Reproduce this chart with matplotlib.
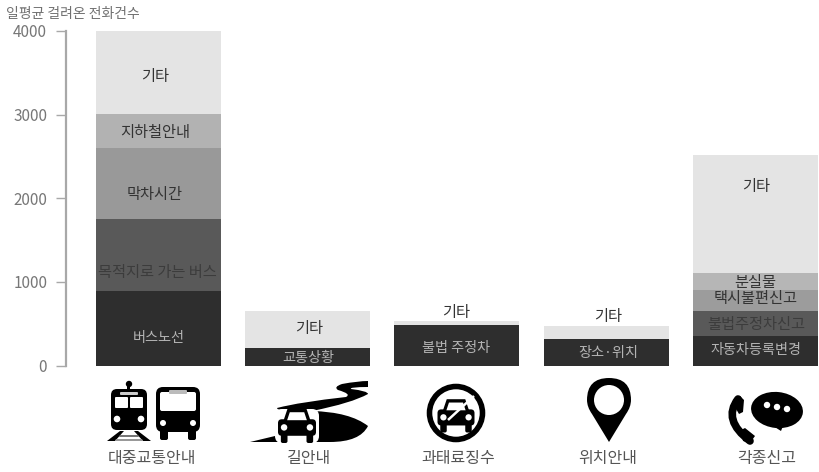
import matplotlib
matplotlib.use('Agg')
import matplotlib.pyplot as plt
from matplotlib.patches import Circle, Ellipse, FancyBboxPatch, PathPatch, Polygon, Rectangle
from matplotlib.path import Path

plt.rcParams['font.family'] = ['Noto Sans CJK KR', 'DejaVu Sans']

categories = ['대중교통안내', '길안내', '과태료징수', '위치안내', '각종신고']

transit_values = [890, 862, 848, 408, 992]
road_values = [210, 445]
fine_values = [485, 45]
place_values = [317, 159]
report_values = [353, 302, 248, 200, 1415]

transit_labels = ['버스노선', '목적지로 가는 버스', '막차시간', '지하철안내', '기타']
road_labels = ['교통상황', '기타']
fine_labels = ['불법 주정차', '기타']
place_labels = ['장소·위치', '기타']
report_labels = ['자동차등록변경', '불법주정차신고', '택시불편신고', '분실물', '기타']

transit_colors = ['#2e2e2e', '#595959', '#999999', '#b2b2b2', '#e4e4e4']
report_colors = ['#2e2e2e', '#595959', '#9c9c9c', '#b6b6b6', '#e4e4e4']
pair_colors = ['#2e2e2e', '#e4e4e4']

# label places in pixels from the top left of the picture
transit_label_y = [338, 272, 194, 133, 77]
road_label_y = [358, 329]
fine_label_y = [348, 313]
place_label_y = [353, 317]
report_label_y = [350, 324, 299, 282, 186]
transit_label_x = [159, 157, 155, 155, 155]
road_label_x = [308, 309]
fine_label_x = [456, 456]
place_label_x = [608, 608]
report_label_x = [756, 756, 756, 755, 756]
category_x = [151.5, 309, 458, 608, 767]
category_y = [458, 458, 459, 458, 459]

yticks = [0, 1000, 2000, 3000, 4000]

W, H = 820, 472
BAR_CENTERS = [158.5, 307.5, 456.5, 606, 755.5]
STEP = 149.25

fig = plt.figure(figsize=(W / 100, H / 100), dpi=100, facecolor='white')
ax = fig.add_axes([66 / W, (H - 365.5) / H, (W - 66) / W, 334.5 / H])
ax.set_xlim((66 - BAR_CENTERS[0]) / STEP, (W - BAR_CENTERS[0]) / STEP)
ax.set_ylim(0, 4000)

groups = [
    (transit_values, transit_colors, transit_labels, transit_label_x, transit_label_y),
    (road_values, pair_colors, road_labels, road_label_x, road_label_y),
    (fine_values, pair_colors, fine_labels, fine_label_x, fine_label_y),
    (place_values, pair_colors, place_labels, place_label_x, place_label_y),
    (report_values, report_colors, report_labels, report_label_x, report_label_y),
]

for i, g in enumerate(groups):
    bottom = 0
    for v, c in zip(g[0], g[1]):
        ax.bar(i, v, bottom=bottom, width=125 / STEP, color=c, linewidth=0)
        bottom += v

for s in ['top', 'right', 'bottom']:
    ax.spines[s].set_visible(False)
ax.spines['left'].set_color('#a8a8a8')
ax.spines['left'].set_linewidth(1.6)
ax.set_xticks([])
ax.set_yticks(yticks)
ax.tick_params(axis='y', length=7, width=1, color='#a8a8a8', labelcolor='#777777', labelsize=11, pad=6.5)
ax.patch.set_alpha(0)

# overlay in pixel coordinates for texts and pictograms
ov = fig.add_axes([0, 0, 1, 1])
ov.set_xlim(0, W)
ov.set_ylim(H, 0)
ov.axis('off')
ov.patch.set_alpha(0)

ov.text(6, 14, '일평균 걸려온 전화건수', fontsize=10, color='#707070', ha='left', va='center')

label_colors = {'#2e2e2e': '#b4b4b4', '#595959': '#3c3c3c'}
for vals, cols, labels, xs, ys in groups:
    for lab, x, y, c in zip(labels, xs, ys, cols):
        col = label_colors.get(c, '#333333')
        size = 10.2 if c == '#2e2e2e' else 11
        ov.text(x, y, lab, fontsize=size, ha='center', va='center', color=col)

for x, y, name in zip(category_x, category_y, categories):
    ov.text(x, y, name, fontsize=11.5, color='#555555', ha='center', va='center')


def box(x0, y0, x1, y1, r, color='black', z=3, **kw):
    ov.add_patch(FancyBboxPatch((x0 + r, y0 + r), x1 - x0 - 2 * r, y1 - y0 - 2 * r,
                                boxstyle='round,pad=%g,rounding_size=%g' % (r, r),
                                fc=color, ec='none', zorder=z, **kw))


def poly(pts, color='black', z=3):
    ov.add_patch(Polygon(pts, closed=True, fc=color, ec='none', zorder=z))


def dot(x, y, r, color='white', z=4):
    ov.add_patch(Circle((x, y), r, fc=color, ec='none', zorder=z))


def curved(start, segs, color='black', z=3):
    # segs are (control, end) pairs, a None control gives a straight piece
    verts, codes = [start], [Path.MOVETO]
    for ctrl, end in segs:
        if ctrl is None:
            verts.append(end)
            codes.append(Path.LINETO)
        else:
            verts += [ctrl, end]
            codes += [Path.CURVE3, Path.CURVE3]
    ov.add_patch(PathPatch(Path(verts, codes), fc=color, ec='none', zorder=z))


def car(cx, cy, s, z=5, win='white'):
    # s = half width of the body
    poly([(cx - s * .72, cy - s * .15), (cx - s * .5, cy - s * .8), (cx + s * .5, cy - s * .8),
          (cx + s * .72, cy - s * .15)], 'black', z)
    poly([(cx - s * .52, cy - s * .2), (cx - s * .38, cy - s * .62), (cx + s * .38, cy - s * .62),
          (cx + s * .52, cy - s * .2)], win, z + 1)
    box(cx - s, cy - s * .25, cx + s, cy + s * .62, s * .2, 'black', z)
    box(cx - s * .85, cy + s * .5, cx - s * .5, cy + s * 1.0, s * .1, 'black', z)
    box(cx + s * .5, cy + s * .5, cx + s * .85, cy + s * 1.0, s * .1, 'black', z)
    dot(cx - s * .68, cy + s * .18, s * .17, win, z + 1)
    dot(cx + s * .68, cy + s * .18, s * .17, win, z + 1)


# train
dot(129, 384, 3.2, 'black')
ov.add_patch(Rectangle((127.5, 384), 3, 6, fc='black', ec='none', zorder=3))
box(111, 389, 147, 430, 6)
box(120, 392, 138, 395, 1, '#cccccc', 4)
box(115, 397, 128, 408, 1, 'white', 4)
box(130, 397, 143, 408, 1, 'white', 4)
dot(117, 419, 3.3)
dot(141, 419, 3.3)
poly([(107, 441), (120, 431), (124, 431), (115, 441)])
poly([(151, 441), (138, 431), (134, 431), (143, 441)])
poly([(120, 435), (138, 435), (139, 437), (119, 437)], '#777777')
poly([(116, 439), (142, 439), (143, 441), (115, 441)], '#999999')

# bus
box(156, 387, 200, 432, 7)
box(160, 392, 196, 411, 2, 'white', 4)
box(169, 390, 187, 394, 1, '#bbbbbb', 5)
dot(163, 423, 3)
dot(193, 423, 3)
box(160, 428, 168, 440, 2)
box(188, 428, 196, 440, 2)

# road with car
curved((250, 442), [
    (None, (300, 430)),
    ((335, 421), (300, 413)),
    ((277, 411), (277, 408)),
    ((300, 402), (346, 397)),
    ((352, 394), (338, 390)),
    ((333, 387), (342, 384)),
    ((358, 381), (368, 381)),
    (None, (368, 387)),
    ((349, 387), (351, 389)),
    ((368, 391), (368, 394)),
    ((352, 403), (312, 411)),
    ((350, 412), (368, 426)),
    ((360, 442), (330, 442)),
    (None, (250, 442)),
])
box(275, 409, 319, 443, 7, 'white', 4)
car(297, 424, 19, 5)

# no parking sign
ov.add_patch(Circle((456, 413), 26.5, fc='white', ec='black', lw=4, zorder=3))
car(456, 414, 18.5, 4)
ov.plot([448, 474], [420, 396], color='white', lw=1.8, zorder=6, solid_capstyle='butt')

# pin
curved((609, 442), [
    (None, (592, 414)),
    ((587, 407), (587, 400)),
    ((587, 378), (609, 378)),
    ((631, 378), (631, 400)),
    ((631, 407), (626, 414)),
    (None, (609, 442)),
])
dot(609, 400, 15)

# phone and speech bubble
phone = Path([(738, 399), (722, 420), (750, 441)], [Path.MOVETO, Path.CURVE3, Path.CURVE3])
ov.add_patch(PathPatch(phone, fc='none', ec='black', lw=5.5, zorder=3, capstyle='round'))
poly([(732, 402), (740, 396), (744, 400), (743, 412), (739, 414)])
poly([(741, 430), (745, 428), (755, 436), (750, 443), (743, 441)])
ov.add_patch(Ellipse((777, 410), 52, 36, angle=6, fc='black', ec='none', zorder=3))
poly([(770, 424), (783, 426), (781, 431)])
dot(767, 405, 3.2)
dot(777, 407, 3.2)
dot(787, 409, 3.2)

fig.savefig('out.png', dpi=100)
